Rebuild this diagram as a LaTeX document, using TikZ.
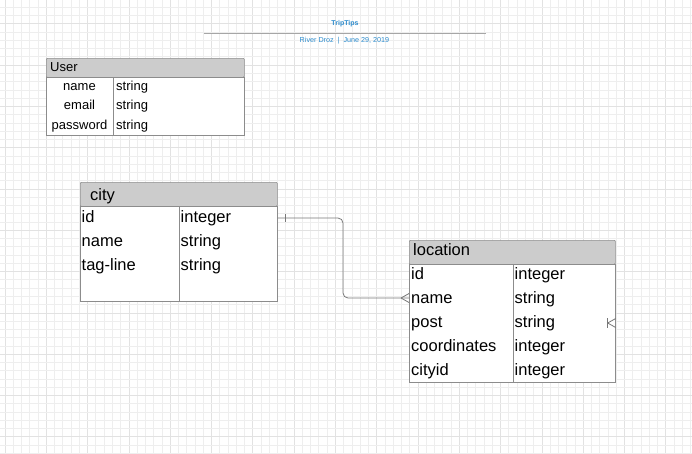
\documentclass[tikz,border=0pt]{standalone}
\usepackage{fontspec}
\setmainfont{Liberation Sans}
\definecolor{gridminor}{RGB}{238,238,238}
\definecolor{gridmajor}{RGB}{226,226,226}
\definecolor{hdrfill}{RGB}{204,204,204}
\definecolor{tblborder}{RGB}{140,140,140}
\definecolor{titleblue}{RGB}{45,140,205}
\definecolor{linkgray}{RGB}{120,120,120}
\begin{document}
\begin{tikzpicture}[x=1pt,y=-1pt,
  hdr/.style={draw=tblborder,fill=hdrfill,line width=0.7pt,anchor=north west,inner sep=0pt,rounded corners=1pt},
  body/.style={draw=tblborder,fill=white,line width=0.7pt,anchor=north west,inner sep=0pt},
  small/.style={font=\fontsize{13}{15}\selectfont,inner sep=0pt,anchor=base},
  smallw/.style={small,anchor=base west},
  big/.style={font=\fontsize{16.5}{19}\selectfont,inner sep=0pt,anchor=base west},
  divider/.style={draw=tblborder,line width=0.7pt},
  link/.style={draw=linkgray,line width=0.8pt}
]
\useasboundingbox (0,0) rectangle (692,453);
\fill[white] (0,0) rectangle (692,453);
% grid
\foreach \k in {0,...,83} {
  \pgfmathsetmacro{\gx}{5+\k*8.26}
  \pgfmathtruncatemacro{\m}{mod(\k,5)}
  \ifnum\m=0 \draw[gridmajor,line width=0.8pt] (\gx,0) -- (\gx,453);
  \else \draw[gridminor,line width=0.8pt] (\gx,0) -- (\gx,453); \fi
}
\foreach \k in {0,...,54} {
  \pgfmathsetmacro{\gy}{7.3+\k*8.26}
  \pgfmathtruncatemacro{\m}{mod(\k+3,5)}
  \ifnum\m=0 \draw[gridmajor,line width=0.8pt] (0,\gy) -- (692,\gy);
  \else \draw[gridminor,line width=0.8pt] (0,\gy) -- (692,\gy); \fi
}
% title
\node[font=\bfseries\fontsize{7}{8}\selectfont,text=titleblue,inner sep=0pt,anchor=base] (title) at (345,25.8) {TripTips};
\draw[gray!70,line width=0.8pt] (204,33) -- (486,33);
\node[font=\fontsize{7.2}{8}\selectfont,text=titleblue,inner sep=0pt,anchor=base] (subtitle) at (344.5,42) {River Droz\ \ |\ \ June 29, 2019};

% User table
\node[hdr,minimum width=198pt,minimum height=19pt] (userH) at (46,58) {};
\node[body,minimum width=198pt,minimum height=58pt] (userB) at (46,77) {};
\draw[divider] (113,77) -- (113,135);
\node[smallw] (userT) at (50,71.5) {User};
\node[small] (u1) at (79.5,90) {name};
\node[small] (u2) at (79.5,109.7) {email};
\node[small] (u3) at (79.5,129.4) {password};
\node[smallw] (u1t) at (116,90) {string};
\node[smallw] (u2t) at (116,109.7) {string};
\node[smallw] (u3t) at (116,129.4) {string};

% city table
\node[hdr,minimum width=197pt,minimum height=24pt] (cityH) at (80,182) {};
\node[body,minimum width=197pt,minimum height=95pt] (cityB) at (80,206) {};
\draw[divider] (179,206) -- (179,301);
\node[big] (cityT) at (90,200.5) {city};
\node[big] (c1) at (81.5,222.5) {id};
\node[big] (c2) at (81.5,246.5) {name};
\node[big] (c3) at (81.5,270.5) {tag-line};
\node[big] (c1t) at (180.5,222.5) {integer};
\node[big] (c2t) at (180.5,246.5) {string};
\node[big] (c3t) at (180.5,270.5) {string};

% location table
\node[hdr,minimum width=206pt,minimum height=24pt] (locH) at (409,240) {};
\node[body,minimum width=206pt,minimum height=118pt] (locB) at (409,264) {};
\draw[divider] (513,264) -- (513,382);
\node[big] (locT) at (413,255.5) {location};
\node[big] (l1) at (411,279.5) {id};
\node[big] (l2) at (411,303.5) {name};
\node[big] (l3) at (411,327.5) {post};
\node[big] (l4) at (411,351.5) {coordinates};
\node[big] (l5) at (411,375.5) {cityid};
\node[big] (l1t) at (514.5,279.5) {integer};
\node[big] (l2t) at (514.5,303.5) {string};
\node[big] (l3t) at (514.5,327.5) {string};
\node[big] (l4t) at (514.5,351.5) {integer};
\node[big] (l5t) at (514.5,375.5) {integer};

% connector city.id -> location.name
\coordinate (cstart) at (cityB.east |- 0,218);
\coordinate (cend) at (locB.west |- 0,298);
\draw[link,rounded corners=5pt] (cstart) -- (343,218) -- (343,298) -- (cend);
\draw[link] (285,214) -- (285,222);
\draw[link] (cend) ++(-8,0) -- ++(8,-4.5);
\draw[link] (cend) ++(-8,0) -- ++(8,4.5);
% stray one-or-many marker
\coordinate (mk) at (locB.east |- 0,323);
\draw[link] (mk) ++(-8,-5) -- ++(0,10);
\draw[link] (mk) ++(-8,0) -- ++(8,-4.5);
\draw[link] (mk) ++(-8,0) -- ++(8,4.5);
\end{tikzpicture}
\end{document}
